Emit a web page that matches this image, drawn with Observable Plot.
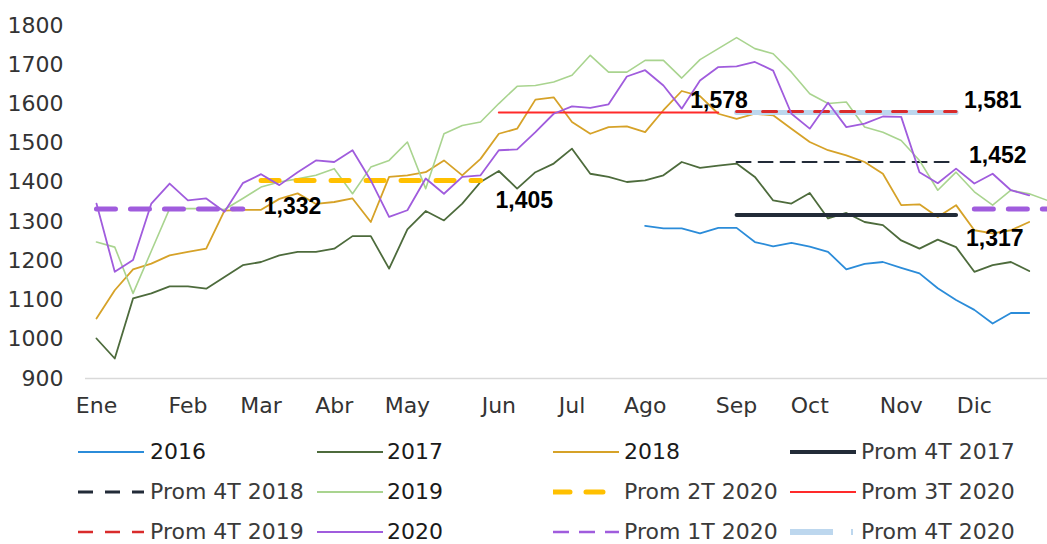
<!DOCTYPE html>
<html>
<head>
<meta charset="utf-8">
<script src="https://cdn.jsdelivr.net/npm/d3@7"></script>
<script src="https://cdn.jsdelivr.net/npm/@observablehq/plot@0.6"></script>
<style>
  html, body { margin: 0; padding: 0; background: #fff; }
  #chart svg { display: block; }
  #legend { position: relative; width: 1047px; height: 119px; font-family: "DejaVu Sans", sans-serif; font-size: 22px; }
  .li-sw { position: absolute; }
  .li-tx { position: absolute; height: 30px; line-height: 30px; white-space: nowrap; }
</style>
</head>
<body>
<div id="chart"></div>
<div id="legend"></div>
<script>
// ---- Data (weekly values, week 1 = first week of January) ----
const monthLabels = ["Ene", "Feb", "Mar", "Abr", "May", "Jun", "Jul", "Ago", "Sep", "Oct", "Nov", "Dic"];
const monthWeeks  = [1, 6, 10, 14, 18, 23, 27, 31, 36, 40, 45, 49];
const yTicks = [900, 1000, 1100, 1200, 1300, 1400, 1500, 1600, 1700, 1800];

// 2016 starts at week 31
const start2016 = 31;
const values2016 = [1289, 1283, 1283, 1270, 1284, 1284, 1248, 1237, 1246, 1236, 1223, 1178, 1192, 1197, 1182, 1168, 1130, 1100, 1075, 1040, 1067, 1067];

const values2017 = [1002, 951, 1104, 1117, 1135, 1135, 1129, 1159, 1189, 1197, 1214, 1223, 1223, 1231, 1263, 1263, 1180, 1280, 1327, 1303, 1346, 1401, 1429, 1384, 1426, 1448, 1486, 1422, 1414, 1401, 1405, 1418, 1452, 1437, 1443, 1448, 1414, 1354, 1346, 1373, 1308, 1322, 1299, 1291, 1252, 1231, 1254, 1235, 1172, 1189, 1197, 1174];

const values2018 = [1053, 1125, 1178, 1193, 1214, 1223, 1231, 1328, 1330, 1330, 1358, 1372, 1345, 1350, 1359, 1299, 1414, 1418, 1426, 1456, 1418, 1460, 1524, 1537, 1611, 1617, 1554, 1524, 1541, 1543, 1528, 1584, 1633, 1620, 1575, 1562, 1575, 1571, 1537, 1503, 1482, 1469, 1452, 1422, 1342, 1344, 1312, 1342, 1278, 1270, 1278, 1299];

const values2019 = [1248, 1235, 1117, 1225, 1333, 1333, 1333, 1331, 1359, 1388, 1401, 1409, 1418, 1435, 1371, 1439, 1456, 1503, 1384, 1524, 1545, 1554, 1601, 1645, 1647, 1656, 1673, 1724, 1681, 1681, 1711, 1711, 1666, 1713, 1741, 1769, 1741, 1728, 1681, 1626, 1601, 1605, 1541, 1528, 1507, 1456, 1380, 1426, 1376, 1342, 1380, 1371, 1354];

const values2020 = [1346, 1172, 1202, 1346, 1397, 1354, 1359, 1325, 1398, 1421, 1393, 1426, 1456, 1452, 1482, 1405, 1312, 1329, 1410, 1371, 1414, 1418, 1482, 1484, 1528, 1575, 1594, 1590, 1599, 1670, 1686, 1647, 1588, 1660, 1694, 1696, 1707, 1685, 1575, 1537, 1603, 1541, 1550, 1568, 1567, 1426, 1398, 1435, 1397, 1422, 1380, 1367];

// Averages (value) and the week spans over which they are drawn
const prom1T2020 = 1332, spans1T2020 = [[1, 9], [49, 53]];
const prom2T2020 = 1405, span2T2020 = [10, 22];
const prom3T2020 = 1578, span3T2020 = [23, 35];
const prom4T2017 = 1317, prom4T2018 = 1452, prom4T2019 = 1581, prom4T2020 = 1578, span4T = [36, 48];

// ---- helpers ----
const toSeries = (vals, start = 1) => vals.map((v, i) => ({week: start + i, value: v}));
const spanLine = (span, v, seg = 0) => [{week: span[0], value: v, seg}, {week: span[1], value: v, seg}];

const C = {
  y2016: "#2B8CD9", y2017: "#4D6B3C", y2018: "#D6A228", y2019: "#A9D48F", y2020: "#A05CDD",
  navy: "#222B38", gold: "#FFC000", red3T: "#FF2A2A", red4T: "#D92B2B", blue4T: "#BDD7EE"
};

const d1T = spans1T2020.flatMap((s, i) => spanLine(s, prom1T2020, i));
const labelFont = {fontFamily: "Liberation Sans, Arial, sans-serif", fontWeight: "bold", fontSize: 23, fill: "#000", textAnchor: "start"};

const chart = Plot.plot({
  width: 1047,
  height: 425,
  marginLeft: 85,
  marginRight: 0,
  marginTop: 25,
  marginBottom: 47,
  style: {fontFamily: "DejaVu Sans, sans-serif", fontSize: "22px", color: "#333", background: "#fff"},
  x: {domain: [0.4, 53], ticks: monthWeeks, tickFormat: w => monthLabels[monthWeeks.indexOf(w)], tickSize: 0, tickPadding: 19, label: null},
  y: {domain: [900, 1800], ticks: yTicks, tickFormat: d3.format("d"), tickSize: 0, tickPadding: 22, label: null},
  marks: [
    Plot.ruleY([900], {stroke: "#D9D9D9", strokeWidth: 1.5}),
    Plot.line(toSeries(values2016, start2016), {x: "week", y: "value", stroke: C.y2016, strokeWidth: 1.8}),
    Plot.line(toSeries(values2017), {x: "week", y: "value", stroke: C.y2017, strokeWidth: 1.8}),
    Plot.line(toSeries(values2018), {x: "week", y: "value", stroke: C.y2018, strokeWidth: 1.8}),
    Plot.line(spanLine(span4T, prom4T2017), {x: "week", y: "value", stroke: C.navy, strokeWidth: 4}),
    Plot.line(spanLine(span4T, prom4T2018), {x: "week", y: "value", stroke: C.navy, strokeWidth: 2, strokeDasharray: "14,8"}),
    Plot.line(toSeries(values2019), {x: "week", y: "value", stroke: C.y2019, strokeWidth: 1.6}),
    Plot.line(spanLine(span2T2020, prom2T2020), {x: "week", y: "value", stroke: C.gold, strokeWidth: 5, strokeDasharray: "18,17"}),
    Plot.line(spanLine(span3T2020, prom3T2020), {x: "week", y: "value", stroke: C.red3T, strokeWidth: 2}),
    Plot.line(spanLine(span4T, prom4T2020), {x: "week", y: "value", stroke: C.blue4T, strokeWidth: 5}),
    Plot.line(spanLine(span4T, prom4T2019), {x: "week", y: "value", stroke: C.red4T, strokeWidth: 3, strokeDasharray: "14,12"}),
    Plot.line(toSeries(values2020), {x: "week", y: "value", stroke: C.y2020, strokeWidth: 1.8}),
    Plot.line(d1T, {x: "week", y: "value", z: "seg", stroke: C.y2020, strokeWidth: 5, strokeDasharray: "19,15"}),
    Plot.text([{week: spans1T2020[0][1], value: prom1T2020}], {x: "week", y: "value", text: d => d3.format(",")(d.value), dx: 21, dy: -2, ...labelFont}),
    Plot.text([{week: span2T2020[1], value: prom2T2020}], {x: "week", y: "value", text: d => d3.format(",")(d.value), dx: 15, dy: 20, ...labelFont}),
    Plot.text([{week: span3T2020[1], value: prom3T2020}], {x: "week", y: "value", text: d => d3.format(",")(d.value), dx: -28, dy: -12, ...labelFont}),
    Plot.text([{week: span4T[1], value: prom4T2019}], {x: "week", y: "value", text: d => d3.format(",")(d.value), dx: 8, dy: -11, ...labelFont}),
    Plot.text([{week: span4T[1], value: prom4T2018}], {x: "week", y: "value", text: d => d3.format(",")(d.value), dx: 13, dy: -6, ...labelFont}),
    Plot.text([{week: span4T[1], value: prom4T2017}], {x: "week", y: "value", text: d => d3.format(",")(d.value), dx: 10, dy: 24, ...labelFont})
  ]
});
document.getElementById("chart").appendChild(chart);

// ---- Legend ----
const legendItems = [
  {label: "2016", color: C.y2016, w: 2, dash: null},
  {label: "2017", color: C.y2017, w: 2.2, dash: null},
  {label: "2018", color: C.y2018, w: 2, dash: null},
  {label: "Prom 4T 2017", color: C.navy, w: 4, dash: null},
  {label: "Prom 4T 2018", color: C.navy, w: 3, dash: "15,12"},
  {label: "2019", color: C.y2019, w: 2, dash: null},
  {label: "Prom 2T 2020", color: C.gold, w: 5, dash: "17,16", cap: "round"},
  {label: "Prom 3T 2020", color: C.red3T, w: 2, dash: null},
  {label: "Prom 4T 2019", color: C.red4T, w: 2.5, dash: "15,12"},
  {label: "2020", color: C.y2020, w: 2, dash: null},
  {label: "Prom 1T 2020", color: C.y2020, w: 2.5, dash: "16,10"},
  {label: "Prom 4T 2020", color: C.blue4T, w: 6, dash: "43,18,2,30", cap: "butt"}
];
const colSw = [78, 317, 553, 790], colTx = [150, 387, 624, 861], rowC = [27, 67, 107];
const legend = document.getElementById("legend");
legendItems.forEach((it, i) => {
  const r = Math.floor(i / 4), c = i % 4;
  const sw = d3.create("svg").attr("class", "li-sw").attr("width", 68).attr("height", 20)
    .style("left", colSw[c] + "px").style("top", (rowC[r] - 10) + "px");
  sw.append("line").attr("x1", 0).attr("x2", 66).attr("y1", 10).attr("y2", 10)
    .attr("stroke", it.color).attr("stroke-width", it.w)
    .attr("stroke-dasharray", it.dash).attr("stroke-linecap", it.cap || "butt");
  legend.appendChild(sw.node());
  const tx = document.createElement("div");
  tx.className = "li-tx";
  tx.textContent = it.label;
  tx.style.left = colTx[c] + "px";
  tx.style.top = (rowC[r] - 15) + "px";
  tx.style.color = it.label.startsWith("Prom") ? "#3a3a3a" : "#1a1a1a";
  legend.appendChild(tx);
});
</script>
</body>
</html>
